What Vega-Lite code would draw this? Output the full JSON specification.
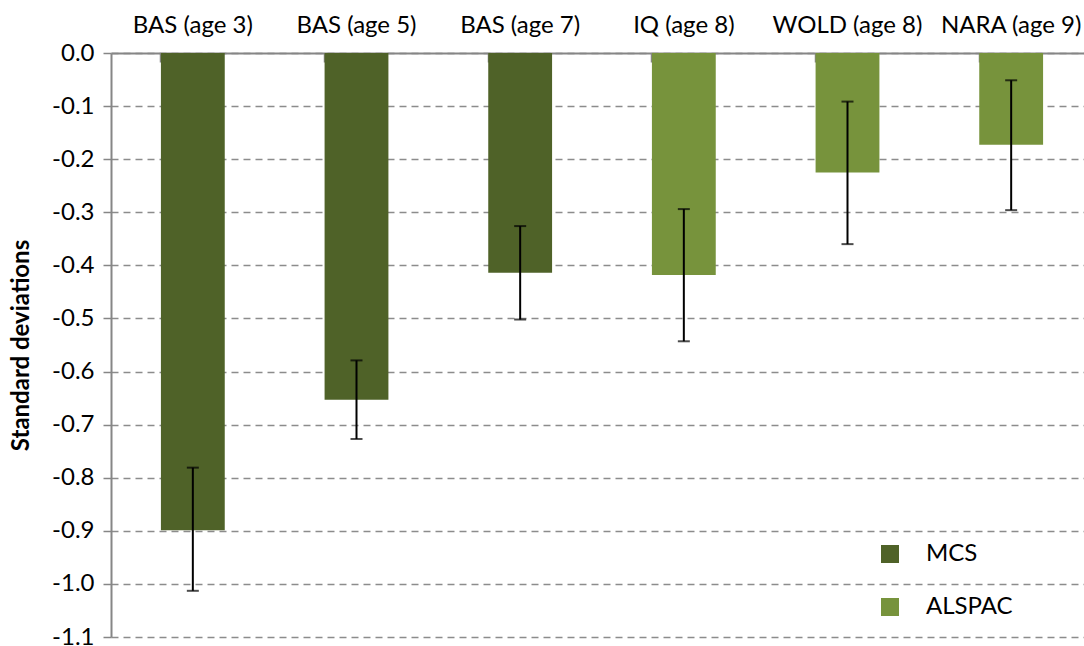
{
  "$schema": "https://vega.github.io/schema/vega-lite/v6.json",
  "autosize": {"type": "none"},
  "width": 973,
  "height": 584,
  "padding": {"left": 111, "top": 53, "right": 0, "bottom": 9},
  "background": "white",
  "config": {
    "view": {"stroke": null},
    "font": "Lato",
    "axis": {"labelFont": "Lato", "titleFont": "Lato", "labelColor": "#000000", "titleColor": "#000000"}
  },
  "data": {
    "values": [
      {"cat": "BAS (age 3)", "series": "MCS", "value": -0.899, "lo": -1.013, "hi": -0.781},
      {"cat": "BAS (age 5)", "series": "MCS", "value": -0.653, "lo": -0.727, "hi": -0.579},
      {"cat": "BAS (age 7)", "series": "MCS", "value": -0.414, "lo": -0.502, "hi": -0.326},
      {"cat": "IQ (age 8)", "series": "ALSPAC", "value": -0.418, "lo": -0.543, "hi": -0.294},
      {"cat": "WOLD (age 8)", "series": "ALSPAC", "value": -0.225, "lo": -0.36, "hi": -0.0915},
      {"cat": "NARA (age 9)", "series": "ALSPAC", "value": -0.173, "lo": -0.296, "hi": -0.0514}
    ]
  },
  "encoding": {
    "x": {
      "field": "cat",
      "type": "nominal",
      "sort": null,
      "scale": {"range": [0, 982], "paddingInner": 0.61, "paddingOuter": 0.305},
      "axis": {
        "orient": "top",
        "title": null,
        "labelAngle": 0,
        "labelFontSize": 24,
        "labelPadding": 25,
        "domainColor": "#868686",
        "domainWidth": 2,
        "tickColor": "#868686",
        "tickWidth": 1.5,
        "tickSize": -9,
        "bandPosition": 0,
        "grid": false
      }
    }
  },
  "layer": [
    {
      "mark": {"type": "bar"},
      "encoding": {
        "y": {
          "field": "value",
          "type": "quantitative",
          "scale": {"domain": [-1.1, 0], "nice": false, "zero": false},
          "axis": {
            "title": "Standard deviations",
            "titleFontSize": 24,
            "titleFontWeight": "bold",
            "titlePadding": 18,
            "values": [0, -0.1, -0.2, -0.3, -0.4, -0.5, -0.6, -0.7, -0.8, -0.9, -1.0, -1.1],
            "labelExpr": "replace(format(datum.value, '.1f'), '\u2212', '-')",
            "labelFontSize": 24,
            "labelPadding": 9,
            "domainColor": "#868686",
            "domainWidth": 2,
            "tickColor": "#868686",
            "tickWidth": 1.5,
            "tickSize": 8,
            "grid": true,
            "gridColor": "#8c8c8c",
            "gridWidth": 1.5,
            "gridDash": [7, 5]
          }
        },
        "color": {
          "field": "series",
          "type": "nominal",
          "sort": ["MCS", "ALSPAC"],
          "scale": {"domain": ["MCS", "ALSPAC"], "range": ["#4F6228", "#77933C"]},
          "legend": {
            "title": null,
            "orient": "none",
            "legendX": 767,
            "legendY": 489,
            "symbolType": "square",
            "symbolSize": 324,
            "symbolStrokeWidth": 0,
            "labelFontSize": 24,
            "labelOffset": 24,
            "rowPadding": 29,
            "labelColor": "#000000"
          }
        }
      }
    },
    {
      "mark": {"type": "rule", "color": "#000000", "strokeWidth": 2},
      "encoding": {
        "y": {"field": "lo", "type": "quantitative"},
        "y2": {"field": "hi"}
      }
    },
    {
      "mark": {"type": "tick", "color": "#000000", "thickness": 2, "size": 12, "orient": "horizontal"},
      "encoding": {"y": {"field": "lo", "type": "quantitative"}}
    },
    {
      "mark": {"type": "tick", "color": "#000000", "thickness": 2, "size": 12, "orient": "horizontal"},
      "encoding": {"y": {"field": "hi", "type": "quantitative"}}
    }
  ]
}
